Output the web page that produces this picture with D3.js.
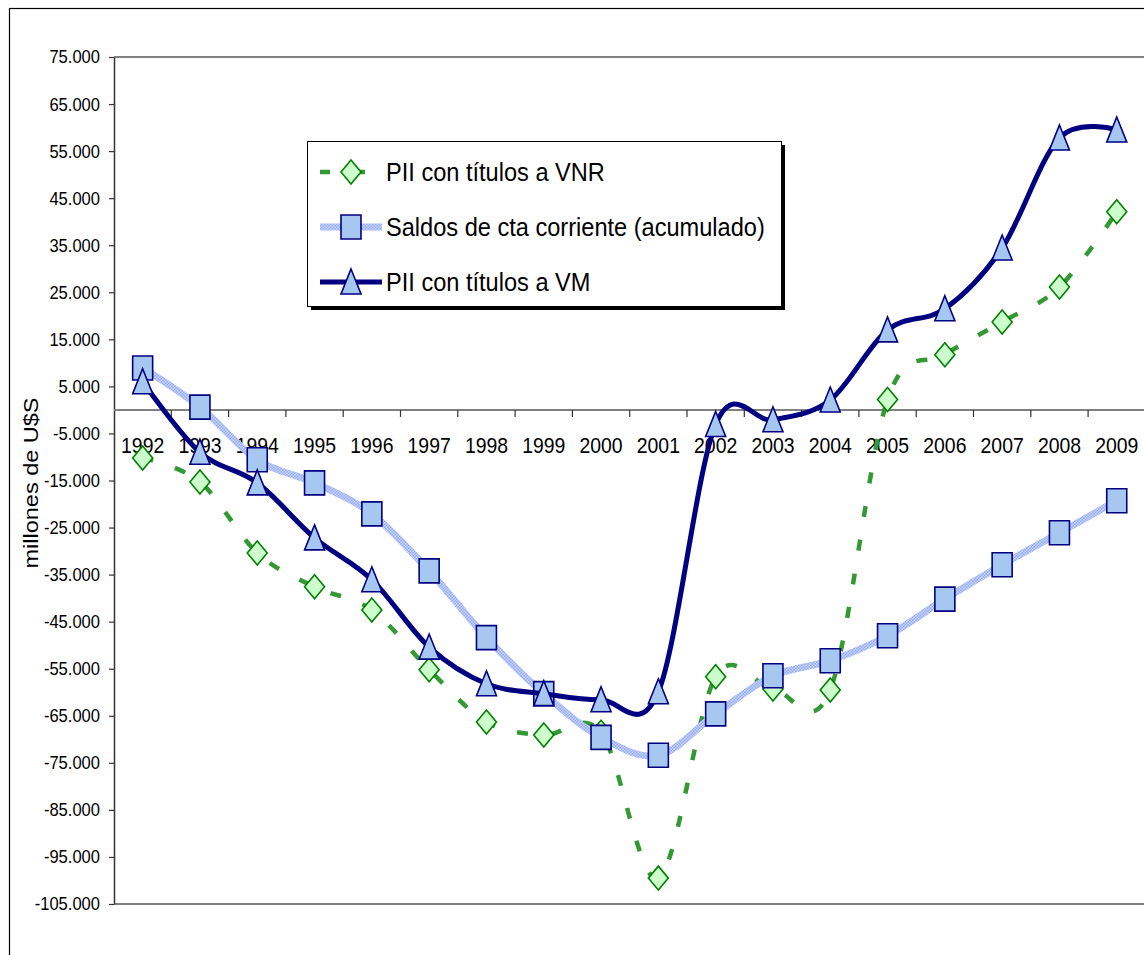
<!DOCTYPE html>
<html>
<head>
<meta charset="utf-8">
<script src="https://cdn.jsdelivr.net/npm/d3@7"></script>
<style>
  body { margin: 0; background: #fff; }
  text { font-family: "Liberation Sans", Arial, sans-serif; fill: #000; }
</style>
</head>
<body>
<svg id="chart" width="1144" height="955"></svg>
<script>
//// DATA

const YEARS = ["1992","1993","1994","1995","1996","1997","1998","1999","2000",
  "2001","2002","2003","2004","2005","2006","2007","2008","2009"];

// PII con títulos a VNR
const VNR = [-10200, -15300, -30400, -37600, -42500, -55200, -66300, -69100, -68500,
  -99500, -56700, -59300, -59500, 2200, 11700, 18700, 26100, 42100];

// Saldos de cta corriente (acumulado)
const SALDOS = [8900, 600, -10600, -15500, -22100, -34200, -48400, -60300, -69600,
  -73400, -64600, -56500, -53300, -48000, -40200, -32900, -26100, -19300];

// PII con títulos a VM
const VM = [6000, -9000, -15500, -27200, -36100, -50400, -58200, -60300, -61600,
  -59900, -3100, -2100, 2100, 17000, 21500, 34400, 57800, 59500];

const Y_TICKS = d3.range(75000, -105001, -10000);
const LEGEND_LABELS = ["PII con títulos a VNR", "Saldos de cta corriente (acumulado)", "PII con títulos a VM"];

//// LAYOUT

const PLOT = { left: 114, right: 1145.4, top: 57, bottom: 904 };
const SQX = 0.89; // horizontal squeeze of the text in the original

const svg = d3.select("#chart");
const locale = d3.formatLocale({ decimal: ",", thousands: ".", grouping: [3], currency: ["$", ""], minus: "-" });
const fmt = locale.format(",");

const x = d3.scaleBand().domain(YEARS).range([PLOT.left, PLOT.right]).padding(0);
const cx = d => x(d) + x.bandwidth() / 2;
const y = d3.scaleLinear().domain([-105000, 75000]).range([PLOT.bottom, PLOT.top]);

// texture for the current-account line
const defs = svg.append("defs");
const pat = defs.append("pattern").attr("id", "tex")
  .attr("patternUnits", "userSpaceOnUse").attr("width", 3).attr("height", 3);
pat.append("rect").attr("width", 3).attr("height", 3).attr("fill", "#95acf4");
pat.append("rect").attr("width", 1.5).attr("height", 1.5).attr("fill", "#c9d6fb");
pat.append("rect").attr("x", 1.5).attr("y", 1.5).attr("width", 1.5).attr("height", 1.5).attr("fill", "#c9d6fb");

// chart area border
svg.append("rect").attr("x", 9.5).attr("y", 8.5).attr("width", 1200).attr("height", 1000)
  .attr("fill", "none").attr("stroke", "#000").attr("stroke-width", 1.2);

// plot area frame (top and bottom)
svg.append("line").attr("x1", PLOT.left).attr("x2", PLOT.right).attr("y1", PLOT.top).attr("y2", PLOT.top)
  .attr("stroke", "#808080").attr("stroke-width", 2);
svg.append("line").attr("x1", PLOT.left).attr("x2", PLOT.right).attr("y1", PLOT.bottom).attr("y2", PLOT.bottom)
  .attr("stroke", "#808080").attr("stroke-width", 2);

// y axis
const yAxis = svg.append("g").attr("transform", `translate(${PLOT.left},0)`)
  .call(d3.axisLeft(y).tickValues(Y_TICKS).tickFormat(fmt).tickSize(5).tickSizeOuter(0));
yAxis.select(".domain").attr("stroke", "#333").attr("stroke-width", 1.5);
yAxis.selectAll(".tick line").attr("stroke", "#333").attr("stroke-width", 1.2);
yAxis.selectAll(".tick text")
  .attr("x", -14 / SQX)
  .attr("transform", `scale(${SQX},1)`)
  .style("font-size", "18.6px")
  .style("font-family", "'Liberation Sans', Arial, sans-serif");

// x axis at zero
const y0 = y(0);
const xAxis = svg.append("g").attr("transform", `translate(0,${y0})`);
xAxis.append("line").attr("x1", PLOT.left).attr("x2", PLOT.right).attr("stroke", "#808080").attr("stroke-width", 2);
xAxis.selectAll(".tk").data(YEARS.slice(1).concat(["end"]))
  .enter().append("line")
  .attr("x1", (d, i) => PLOT.left + (i + 1) * x.bandwidth())
  .attr("x2", (d, i) => PLOT.left + (i + 1) * x.bandwidth())
  .attr("y1", 0).attr("y2", 7)
  .attr("stroke", "#333").attr("stroke-width", 1.2);
xAxis.selectAll(".lbl").data(YEARS)
  .enter().append("text")
  .attr("transform", d => `translate(${cx(d)},35) scale(${SQX},1)`)
  .attr("text-anchor", "middle")
  .attr("dy", "0.35em")
  .style("font-size", "21.8px")
  .text(d => d);

// y axis title
svg.append("text")
  .attr("transform", "translate(31,483) rotate(-90) scale(1,0.88)")
  .attr("text-anchor", "middle")
  .attr("dy", "0.35em")
  .style("font-size", "23.5px")
  .text("millones de U$S");

//// SERIES

const curve = d3.curveCardinal.tension(0);
const line = d3.line().x((d, i) => cx(YEARS[i])).y(d => y(d)).curve(curve);

const diamond = "M0,-12L10,0L0,12L-10,0Z";
const square = "M-10,-12L10,-12L10,12L-10,12Z";
const triangle = "M0,-13L10,12L-10,12Z";

const SERIES = [
  { values: VNR, stroke: "#339933", width: 4.5, dash: "11,23", marker: diamond, fill: "#ccffcc", mstroke: "#008000" },
  { values: SALDOS, stroke: "url(#tex)", width: 7, dash: null, marker: square, fill: "#a6c8f0", mstroke: "#000080" },
  { values: VM, stroke: "#000080", width: 5, dash: null, marker: triangle, fill: "#a6c8f0", mstroke: "#000080" }
];

SERIES.forEach(s => {
  const g = svg.append("g");
  g.append("path").attr("d", line(s.values))
    .attr("fill", "none").attr("stroke", s.stroke).attr("stroke-width", s.width)
    .attr("stroke-dasharray", s.dash);
  g.selectAll("path.m").data(s.values).enter().append("path").attr("class", "m")
    .attr("transform", (d, i) => `translate(${cx(YEARS[i])},${y(d)})`)
    .attr("d", s.marker)
    .attr("fill", s.fill).attr("stroke", s.mstroke).attr("stroke-width", 1.6);
});

//// LEGEND

const LEG = { x: 307, y: 141, w: 474, h: 165 };
const leg = svg.append("g");
leg.append("rect").attr("x", LEG.x + 4).attr("y", LEG.y + 4).attr("width", LEG.w).attr("height", LEG.h).attr("fill", "#000");
leg.append("rect").attr("x", LEG.x + 0.5).attr("y", LEG.y + 0.5).attr("width", LEG.w).attr("height", LEG.h)
  .attr("fill", "#fff").attr("stroke", "#000").attr("stroke-width", 1);

const rowY = [172, 227, 282];
SERIES.forEach((s, i) => {
  const ry = rowY[i];
  leg.append("line").attr("x1", 320).attr("x2", 382).attr("y1", ry).attr("y2", ry)
    .attr("stroke", s.stroke).attr("stroke-width", s.width).attr("stroke-dasharray", s.dash ? "10,25" : null);
  leg.append("path").attr("transform", `translate(351,${ry})`).attr("d", s.marker)
    .attr("fill", s.fill).attr("stroke", s.mstroke).attr("stroke-width", 1.6);
  leg.append("text")
    .attr("transform", `translate(386,${ry}) scale(${SQX},1)`)
    .attr("dy", "0.35em")
    .style("font-size", "26.5px")
    .text(LEGEND_LABELS[i]);
});
</script>
</body>
</html>
